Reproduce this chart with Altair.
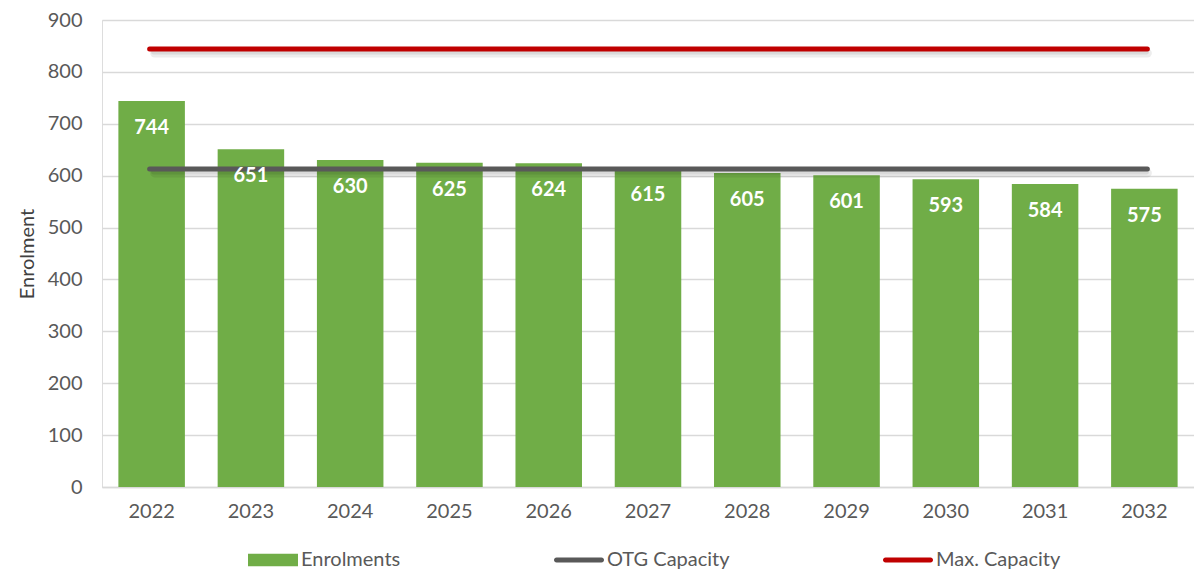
import altair as alt
import pandas as pd

years = ["2022", "2023", "2024", "2025", "2026", "2027", "2028", "2029", "2030", "2031", "2032"]
enrolments = [744, 651, 630, 625, 624, 615, 605, 601, 593, 584, 575]
series_names = ["Enrolments", "OTG Capacity", "Max. Capacity"]
series_colors = ["#70AD47", "#595959", "#C00000"]
otg_capacity = 613
max_capacity = 844
y_ticks = [0, 100, 200, 300, 400, 500, 600, 700, 800, 900]

FONT = "Lato"
TXT = "#595959"

bars_df = pd.DataFrame({"year": years, "enrolment": enrolments})
lines_df = pd.DataFrame({
    "series": ["OTG Capacity", "Max. Capacity"],
    "value": [otg_capacity, max_capacity],
    "start": [years[0], years[0]],
    "end": [years[-1], years[-1]],
    "color": ["#595959", "#C00000"],
})
legend_df = pd.DataFrame({"series": series_names, "year": [years[0]] * 3, "v": [-300] * 3})

x_enc = alt.X("year:N", sort=years, title=None,
              scale=alt.Scale(paddingInner=0.33, paddingOuter=0.165),
              axis=alt.Axis(labelAngle=0, labelFontSize=20, labelColor=TXT, labelFont=FONT,
                            labelPadding=14, ticks=False, domain=True, domainColor="#D9D9D9",
                            domainWidth=1.5))
y_scale = alt.Scale(domain=[0, 900], nice=False)
y_axis = alt.Axis(values=y_ticks, grid=True, gridColor="#D9D9D9", gridWidth=1.5, domain=False,
                  ticks=False, labelFontSize=20, labelColor=TXT, labelFont=FONT, labelPadding=20,
                  title="Enrolment", titleFontSize=20, titleFont=FONT, titleFontWeight="normal",
                  titleColor="#404040", titlePadding=10)

bars = alt.Chart(bars_df).mark_bar(color="#70AD47").encode(
    x=x_enc,
    y=alt.Y("enrolment:Q", scale=y_scale, axis=y_axis),
)

labels = alt.Chart(bars_df).mark_text(color="white", font=FONT, fontSize=20, fontWeight="bold",
                                      baseline="middle", dy=27).encode(
    x=alt.X("year:N", sort=years),
    y=alt.Y("enrolment:Q"),
    text=alt.Text("enrolment:Q"),
)

shadow1 = alt.Chart(lines_df).mark_rule(color="black", opacity=0.07, strokeWidth=9, strokeCap="round",
                                        yOffset=4, xOffset=3, x2Offset=3, y2Offset=4).encode(
    x=alt.X("start:N", sort=years), x2="end:N", y="value:Q",
)
shadow2 = alt.Chart(lines_df).mark_rule(color="black", opacity=0.08, strokeWidth=5, strokeCap="round",
                                        yOffset=3, xOffset=2, x2Offset=2, y2Offset=3).encode(
    x=alt.X("start:N", sort=years), x2="end:N", y="value:Q",
)
rules = alt.Chart(lines_df).mark_rule(strokeWidth=5, strokeCap="round", xOffset=-2, x2Offset=3).encode(
    x=alt.X("start:N", sort=years), x2="end:N", y="value:Q",
    color=alt.Color("color:N", scale=None),
)

rect_path = "M-1,-0.25L1,-0.25L1,0.25L-1,0.25Z"
line_path = "M-0.9,-0.1L0.9,-0.1A0.1,0.1 0 0 1 0.9,0.1L-0.9,0.1A0.1,0.1 0 0 1 -0.9,-0.1Z"

legend_layer = alt.Chart(legend_df).mark_point(filled=True, clip=True, opacity=1).encode(
    x=alt.X("year:N", sort=years),
    y=alt.Y("v:Q"),
    color=alt.Color("series:N", scale=alt.Scale(domain=series_names, range=series_colors),
                    legend=alt.Legend(title=None, orient="none", legendX=146, legendY=515,
                                      direction="horizontal", columnPadding=153,
                                      labelFontSize=20, labelColor=TXT, labelFont=FONT,
                                      symbolSize=2500, labelOffset=3, padding=0,
                                      symbolStrokeWidth=0)),
    shape=alt.Shape("series:N", scale=alt.Scale(domain=series_names,
                                                range=[rect_path, line_path, line_path])),
)

chart = alt.layer(bars, shadow1, shadow2, rules, labels, legend_layer).properties(
    width=1092, height=467,
    autosize=alt.AutoSizeParams(type="none"),
    padding={"left": 94, "top": 12, "right": 0, "bottom": 83},
).configure_view(stroke=None).configure(background="white")

chart.save("out.html", embed_options={"renderer": "svg", "actions": False})
